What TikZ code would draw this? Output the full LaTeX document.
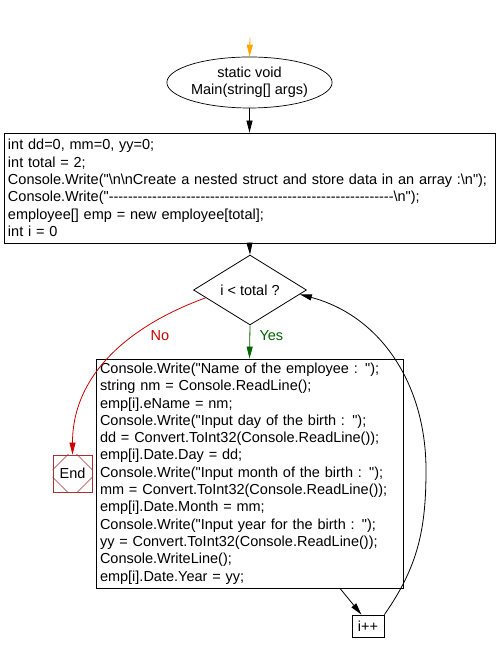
\documentclass[tikz,border=0pt]{standalone}
\usepackage{fontspec}
\newfontfamily\codefont{Liberation Sans}
\usepackage{xcolor}
\usepackage{tikz}
\usetikzlibrary{shapes.geometric,positioning,arrows.meta}
\definecolor{startOrange}{HTML}{FFA500}
\definecolor{yesGreen}{HTML}{006400}
\definecolor{noRed}{HTML}{CC0000}
\definecolor{endBorder}{HTML}{A83232}
\newcommand\dashrun{\foreach\k in {1,...,59}{\mbox{-}}}

\begin{document}
\begin{tikzpicture}[
  x=1pt, y=1pt,
  font=\codefont\fontsize{14.5}{17.3}\selectfont,
  terminal/.style={draw, ellipse, line width=0.7pt, minimum width=145pt, minimum height=51pt,
    inner sep=0pt, align=center},
  process/.style={draw, rectangle, line width=0.8pt, align=left, inner xsep=4pt, inner ysep=0pt},
  decision/.style={draw, diamond, line width=0.8pt, minimum width=113pt, minimum height=44pt,
    inner sep=0pt},
  endbox/.style={draw=endBorder, rectangle, line width=0.8pt, minimum width=39pt, minimum height=37pt,
    inner sep=0pt},
  flow/.style={-{Triangle[length=12pt,width=6pt]}, line width=0.8pt},
]
\useasboundingbox (0,0) rectangle (497,652);

% Entry point
\coordinate (start) at (250,614);
\node[terminal] (main) at (249.5,569.5) {static void\\Main(string[] args)};

% Declarations
\node[process, text width=483pt, minimum height=110pt] (init) at (249.5,464) {
  int dd=0, mm=0, yy=0;\\
  int total = 2;\\
  Console.Write("\textbackslash n\textbackslash nCreate a nested struct and store data in an array :\textbackslash n");\\
  Console.Write("\dashrun\textbackslash n");\\
  employee[] emp = new employee[total];\\
  int i = 0
};

% Loop test
\node[decision] (cond) at (250,362) {i < total ?};

% Loop body
\node[process, text width=299pt, minimum height=229pt] (body) at (249.5,178.5) {
  Console.Write("Name of the employee : ");\\
  string nm = Console.ReadLine();\\
  emp[i].eName = nm;\\
  Console.Write("Input day of the birth : ");\\
  dd = Convert.ToInt32(Console.ReadLine());\\
  emp[i].Date.Day = dd;\\
  Console.Write("Input month of the birth : ");\\
  mm = Convert.ToInt32(Console.ReadLine());\\
  emp[i].Date.Month = mm;\\
  Console.Write("Input year for the birth : ");\\
  yy = Convert.ToInt32(Console.ReadLine());\\
  Console.WriteLine();\\
  emp[i].Date.Year = yy;
};

% End and increment
\node[endbox] (stop) at (72.5,178.5) {End};
\begin{scope}
  \clip (stop.south west) rectangle (stop.north east);
  \draw[endBorder, line width=0.6pt] ([xshift=-23.5pt]stop.center) -- ([yshift=23.5pt]stop.center)
    -- ([xshift=23.5pt]stop.center) -- ([yshift=-23.5pt]stop.center) -- cycle;
\end{scope}
\node[draw, line width=0.8pt, minimum width=32pt, minimum height=22pt, inner sep=0pt] (inc) at (368,26) {i++};
\coordinate (loopR) at (426,182);

% Connectors
\draw[flow, startOrange] (start) -- (main.north);
\draw[flow] (main.south) -- (init.north);
\draw[flow] (init.south) -- (cond.north);
\draw[flow, yesGreen] (cond.south) -- (body.north);
\node[text=yesGreen, anchor=west] (yes) at (256,316) {Yes};
\draw[flow, noRed] (cond.190) to[out=200, in=90] (stop.north);
\node[text=noRed] (no) at (160,316) {No};
\draw[flow] ([xshift=90.5pt]body.south) -- (inc.120);
\draw[flow] (inc.north east) to[out=55, in=-90] (loopR) to[out=90, in=-15] (cond.-5);

\end{tikzpicture}
\end{document}
